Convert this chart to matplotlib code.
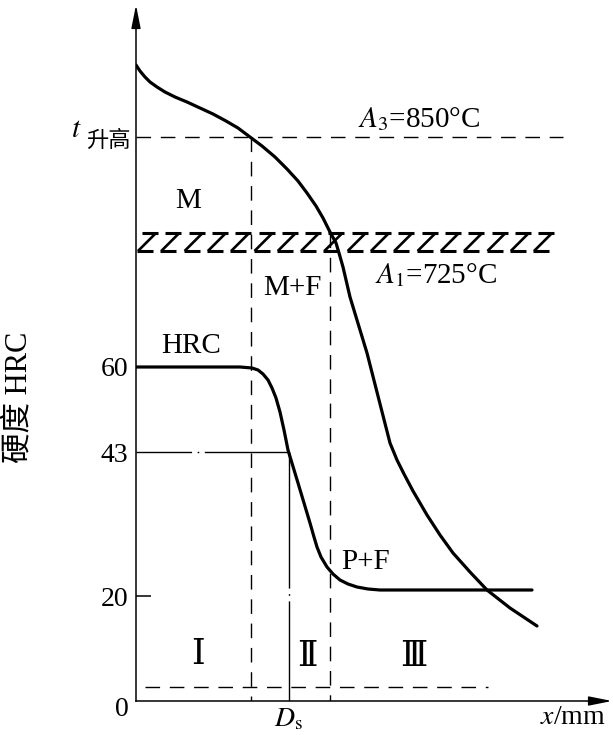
import numpy as np
import matplotlib
matplotlib.use("Agg")
from matplotlib import pyplot as plt
from matplotlib.transforms import ScaledTranslation

plt.rcParams['font.family'] = ['Liberation Serif', 'DejaVu Serif', 'Noto Sans CJK SC']
plt.rcParams['mathtext.fontset'] = 'stix'

# diagram units: 1 unit = 1 px of the reference, origin at the axes corner
temp_x = [0, 4, 9, 14, 21, 29, 39, 51, 64, 77, 90, 102, 114, 126, 139, 151, 162, 171, 180, 187,
          194, 200, 203, 207, 214, 231, 254, 261, 268, 277, 291, 304, 317, 334, 351, 374, 401]
temp_y = [636, 630, 624, 619, 614, 609, 604, 599, 593, 587, 580, 573, 564, 555, 544, 532, 520, 508,
          495, 483, 469, 458, 448, 434, 404, 348, 258, 241, 227, 210, 186, 166, 148, 129, 111, 93, 75]

hrc_x = [0, 104, 116, 122, 127, 132, 136, 140, 144, 148, 152, 162, 174, 178, 181, 185, 191, 197,
         204, 212, 221, 232, 244, 396]
hrc_y = [334, 334, 333, 331, 327, 321, 313, 303, 289, 271, 251, 218, 178, 164, 154, 144, 134, 127,
         121, 117, 114, 112, 111, 111]

tick_pos = [0, 105, 249, 334]
tick_labels = ['0', '20', '43', '60']

t_high = 564      # t升高 / A3 level
band_top = 468    # A1 band
band_bot = 450
x_ds = 153        # D_s
x_v1 = 115
x_v2 = 194
y_43 = 249

fig = plt.figure(figsize=(6.13, 7.35), dpi=100)
ax = fig.add_axes([136 / 613, 34 / 735, 477 / 613, 701 / 735])
ax.set_xlim(0, 477)
ax.set_ylim(0, 701)
for s in ['top', 'right']:
    ax.spines[s].set_visible(False)
ax.spines['left'].set_bounds(0, 690)
ax.spines['bottom'].set_bounds(0, 468)
ax.spines['left'].set_linewidth(1.1)
ax.spines['bottom'].set_linewidth(1.1)
ax.annotate('', xy=(0, 696), xytext=(0, 680), annotation_clip=False,
            arrowprops=dict(arrowstyle='-|>,head_length=1.4,head_width=0.28', lw=1.1, color='k',
                            shrinkA=0, shrinkB=0))
ax.annotate('', xy=(476, 0), xytext=(460, 0), annotation_clip=False,
            arrowprops=dict(arrowstyle='-|>,head_length=1.4,head_width=0.28', lw=1.1, color='k',
                            shrinkA=0, shrinkB=0))

ax.set_yticks(tick_pos)
ax.set_yticklabels(tick_labels, fontsize=20)
ax.tick_params(axis='y', direction='in', length=11, width=1.1, pad=5.5)
for tk, lab in zip(ax.yaxis.get_major_ticks(), tick_labels):
    if lab != '20':
        tk.tick1line.set_visible(False)
    if lab == '0':
        tk.label1.set_transform(tk.label1.get_transform()
                                + ScaledTranslation(0, -0.05, fig.dpi_scale_trans))
ax.set_xticks([x_ds])
ax.set_xticklabels([r'$D_\mathrm{s}$'], fontsize=20)
ax.tick_params(axis='x', length=0, pad=4)

# dashed construction lines
dash = dict(color='k', lw=1.0, linestyle=(0, (10.5, 7)))
ax.plot([0, 427], [t_high, t_high], **dash)
ax.plot([x_v1, x_v1], [t_high, 0], **dash)
ax.plot([x_v2, x_v2], [band_top, 0], **dash)
ax.plot([9, 352], [14, 14], **dash)

# dash-dot lines for 43 HRC
ax.plot([0, x_ds], [y_43, y_43], color='k', lw=1.0, linestyle=(0, (40, 4, 1.2, 4, 60, 4)))
ax.plot([x_ds, x_ds], [y_43, 0], color='k', lw=1.0, linestyle=(0, (98, 4, 1.2, 4, 80)))

# A1 hatched band (slanted Z pattern)
period = 23.3
w = 16
shift = 5
for i in range(18):
    x0 = 1 + i * period
    ax.plot([x0 + shift, x0 + shift + w], [band_top, band_top], color='k', lw=2.2,
            solid_capstyle='butt')
    ax.plot([x0, x0 + w], [band_bot, band_bot], color='k', lw=2.2, solid_capstyle='butt')
    ax.plot([x0 + shift + w - 2, x0 + 1], [band_top, band_bot], color='k', lw=1.9,
            solid_capstyle='butt')

ax.plot(temp_x, temp_y, color='k', lw=2.3, solid_capstyle='round', solid_joinstyle='round')
ax.plot(hrc_x, hrc_y, color='k', lw=2.3, solid_capstyle='round', solid_joinstyle='round')

txt = dict(fontsize=21, ha='center', va='center', clip_on=False)
ax.text(52, 500, 'M', **txt)
ax.text(156, 413, 'M+F', **txt)
ax.text(55, 355, 'HRC', **txt)
ax.text(230, 139, 'P+F', **txt)
rom = dict(fontsize=25, ha='center', va='center', clip_on=False)
ax.text(62, 45, 'Ⅰ', **rom)
ax.text(171, 44, 'Ⅱ', **rom)
ax.text(278, 44, 'Ⅲ', **rom)
ax.text(437, -17, r'$x$/mm', fontsize=20, ha='center', va='center', clip_on=False)
ax.text(222, 574, r'$A_3$=850°C', fontsize=21, ha='left', va='baseline')
ax.text(239, 418, r'$A_1$=725°C', fontsize=21, ha='left', va='baseline')
ax.text(-60, 571, r'$t$', fontsize=21, ha='center', va='center', clip_on=False)
ax.text(-28, 561, '升高', fontsize=16, ha='center', va='center', clip_on=False,
        family=['Noto Sans CJK SC'])
ax.text(-117, 304, '硬度 HRC', fontsize=22, rotation=90, ha='center', va='center',
        clip_on=False, family=['Liberation Serif', 'Noto Sans CJK SC'])

fig.savefig('out.png', dpi=100)
